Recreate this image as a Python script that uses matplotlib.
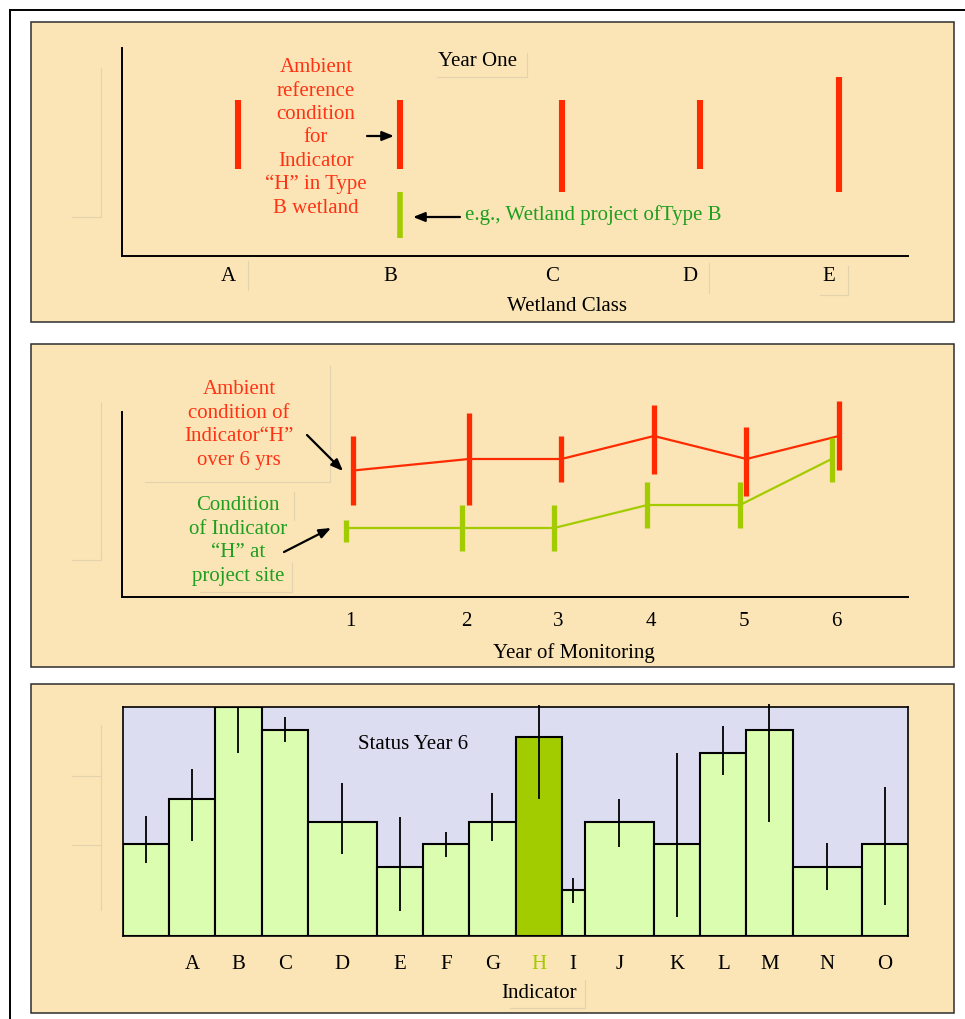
import numpy as np
import matplotlib
matplotlib.use('Agg')
import matplotlib.pyplot as plt
from matplotlib.patches import Rectangle
from matplotlib.lines import Line2D
from matplotlib.transforms import ScaledTranslation

plt.rcParams['font.family'] = ['Liberation Serif', 'DejaVu Serif']

# colores
BEIGE = '#FBE5B6'
RED = '#FF2A00'
RED_TXT = '#FF3314'
LIME = '#A2CC00'
GREEN_TXT = '#1F9E1F'
LIGHT_GREEN = '#DAFDB0'
LAVENDER = '#DDDDF2'
FAINT = '#E2D2AE'

# ---- datos panel 1: Year One ----
classes = ['A', 'B', 'C', 'D', 'E']
class_pos = [1, 2, 3, 3.85, 4.71]
ref_low = [3.8, 3.8, 2.8, 3.8, 2.8]
ref_high = [6.8, 6.8, 6.8, 6.8, 7.8]
proj_class_pos = [2]
proj_low = [0.8]
proj_high = [2.8]

# ---- datos panel 2: seis años ----
years = ['1', '2', '3', '4', '5', '6']
year_pos = [0.75, 2, 3, 4, 5, 6]
green_pos = [0.675, 1.92, 2.92, 3.93, 4.93, 5.92]
amb_mean = [5.5, 6, 6, 7, 6, 7]
amb_low = [4.0, 4.0, 5.0, 5.35, 4.4, 5.5]
amb_high = [7.0, 8.0, 7.0, 8.35, 7.4, 8.5]
site_mean = [3, 3, 3, 4, 4, 6]
site_low = [2.4, 2.0, 2.0, 3.0, 3.0, 5.0]
site_high = [3.35, 4.0, 4.0, 5.0, 5.0, 6.9]

# ---- datos panel 3: Status Year 6 ----
indicators = ['', 'A', 'B', 'C', 'D', 'E', 'F', 'G', 'H', 'I', 'J', 'K', 'L', 'M', 'N', 'O']
bar_widths = [2, 2, 2, 2, 3, 2, 2, 2, 2, 1, 3, 2, 2, 2, 3, 2]
status = [4, 6, 10, 9, 5, 3, 4, 5, 8.7, 2, 5, 4, 8, 9, 3, 4]
status_low = [3.2, 4.15, 8.0, 8.45, 3.6, 1.1, 3.45, 4.15, 6.0, 1.45, 3.9, 0.85, 7.05, 5.0, 2.0, 1.35]
status_high = [5.25, 7.3, 10.0, 9.55, 6.7, 5.2, 4.55, 6.25, 10.1, 2.55, 6.0, 8.0, 9.15, 10.15, 4.05, 6.5]

W, H = 965, 1019
fig = plt.figure(figsize=(W / 100, H / 100), dpi=100)


def frac(x0, y0, x1, y1):
    return [x0 / W, 1 - y1 / H, (x1 - x0) / W, (y1 - y0) / H]


def fig_line(xs, ys, color=FAINT, lw=0.8):
    fig.add_artist(Line2D([x / W for x in xs], [1 - y / H for y in ys],
                          transform=fig.transFigure, color=color, lw=lw, zorder=-1))


def fig_text(x, y, s, **kw):
    fig.text(x / W, 1 - y / H, s, **kw)


def arrow(ax, x0, y0, x1, y1):
    ax.annotate('', xy=(x1, H - y1), xytext=(x0, H - y0),
                xycoords='figure pixels', textcoords='figure pixels',
                arrowprops=dict(arrowstyle='-|>,head_length=0.7,head_width=0.28',
                                color='black', lw=1.6, shrinkA=0, shrinkB=0),
                annotation_clip=False)


# marco exterior y fondos de los paneles
fig_line([9.5, 9.5], [10, H], color='black', lw=1.4)
fig_line([9.5, W], [10, 10], color='black', lw=1.4)
for (x0, y0, x1, y1) in [(31, 22, 954, 322), (31, 344, 954, 667), (31, 684, 954, 1013)]:
    fig.add_artist(Rectangle((x0 / W, 1 - y1 / H), (x1 - x0) / W, (y1 - y0) / H,
                             transform=fig.transFigure, fc=BEIGE, ec='#2E2E2E',
                             lw=1.1, zorder=-5))

# restos de cajas de texto (líneas tenues)
fig_line([101, 101, 72], [68, 217, 217])
fig_line([527, 527, 437], [53, 77, 77])
fig_line([248, 248], [261, 290])
fig_line([709, 709], [263, 293])
fig_line([848, 848, 820], [266, 295, 295])
fig_line([101, 101, 72], [403, 560, 560])
fig_line([330, 330, 145], [366, 482, 482])
fig_line([294, 294], [492, 520])
fig_line([292, 292, 200], [563, 592, 592])
fig_line([101, 101], [725, 910])
fig_line([72, 101], [776, 776])
fig_line([72, 101], [845, 845])
fig_line([585, 585, 510], [980, 1008, 1008])

# ================= Panel 1 =================
ax1 = fig.add_axes(frac(122, 48, 908, 256))
ax1.set_facecolor('none')
ax1.set_xlim(0.284, 5.136)
ax1.set_ylim(0, 208 / 23)
for s in ['top', 'right']:
    ax1.spines[s].set_visible(False)
for s in ['left', 'bottom']:
    ax1.spines[s].set_linewidth(1.4)
ax1.set_xticks([])
ax1.set_yticks([])

ax1.vlines(class_pos, ref_low, ref_high, color=RED, lw=4.4)
ax1.vlines(proj_class_pos, proj_low, proj_high, color=LIME, lw=4.0)

off = ax1.transData + ScaledTranslation(-0.10, 0, fig.dpi_scale_trans)
for p, c in zip(class_pos, classes):
    ax1.text(p, -0.9, c, transform=off, ha='center', va='center', fontsize=15)

fig_text(567, 306, 'Wetland Class', ha='center', va='center', fontsize=15)
fig_text(478, 61, 'Year One', ha='center', va='center', fontsize=15)
fig_text(316, 138, 'Ambient\nreference\ncondition\nfor\nIndicator\n\u201cH\u201d in Type\nB wetland',
         ha='center', va='center', color=RED_TXT, fontsize=15, linespacing=1.31)
fig_text(465, 215, 'e.g., Wetland project ofType B', ha='left', va='center',
         color=GREEN_TXT, fontsize=15)
arrow(ax1, 367, 136, 394, 136)
arrow(ax1, 460, 217, 413, 217)

# ================= Panel 2 =================
ax2 = fig.add_axes(frac(122, 412, 908, 597))
ax2.set_facecolor('none')
ax2.set_xlim(-1.75, 6.746)
ax2.set_ylim(0, 185 / 23)
for s in ['top', 'right']:
    ax2.spines[s].set_visible(False)
for s in ['left', 'bottom']:
    ax2.spines[s].set_linewidth(1.4)
ax2.set_xticks([])
ax2.set_yticks([])

ax2.plot(year_pos, amb_mean, color=RED, lw=1.6, clip_on=False)
ax2.vlines(year_pos, amb_low, amb_high, color=RED, lw=3.8, clip_on=False)
ax2.plot(green_pos, site_mean, color=LIME, lw=1.6, clip_on=False)
ax2.vlines(green_pos, site_low, site_high, color=LIME, lw=3.8, clip_on=False)

off2 = ax2.transData + ScaledTranslation(-0.03, 0, fig.dpi_scale_trans)
for p, y in zip(year_pos, years):
    ax2.text(p, -1.05, y, transform=off2, ha='center', va='center', fontsize=15)

fig_text(574, 653, 'Year of Monitoring', ha='center', va='center', fontsize=15)
fig_text(239, 425, 'Ambient\ncondition of\nIndicator\u201cH\u201d\nover 6 yrs',
         ha='center', va='center', color=RED_TXT, fontsize=15, linespacing=1.31)
fig_text(238, 541, 'Condition\nof Indicator\n\u201cH\u201d at\nproject site',
         ha='center', va='center', color=GREEN_TXT, fontsize=15, linespacing=1.31)
arrow(ax2, 307, 435, 343, 471)
arrow(ax2, 284, 552, 331, 528)

# ================= Panel 3 =================
ax3 = fig.add_axes(frac(123, 707, 908, 936))
ax3.set_facecolor(LAVENDER)
lefts = np.concatenate([[0], np.cumsum(bar_widths)[:-1]])
centers = lefts + np.array(bar_widths) / 2
ax3.set_xlim(0, np.sum(bar_widths))
ax3.set_ylim(0, 10)
colors = [LIME if lab == 'H' else LIGHT_GREEN for lab in indicators]
ax3.bar(lefts, status, width=bar_widths, align='edge', color=colors,
        edgecolor='black', linewidth=1.5)
ax3.vlines(centers, status_low, status_high, color='black', lw=1.3, clip_on=False)
for s in ax3.spines.values():
    s.set_linewidth(1.2)
ax3.set_yticks([])
ax3.set_xticks(centers[1:], indicators[1:])
ax3.tick_params(axis='x', length=0, pad=14, labelsize=15)
for lab in ax3.get_xticklabels():
    if lab.get_text() == 'H':
        lab.set_color(LIME)

ax3.text(0.37, 0.835, 'Status Year 6', transform=ax3.transAxes, ha='center',
         va='center', fontsize=15)
fig_text(539, 993, 'Indicator', ha='center', va='center', fontsize=15)

fig.savefig('out.png', dpi=100)
